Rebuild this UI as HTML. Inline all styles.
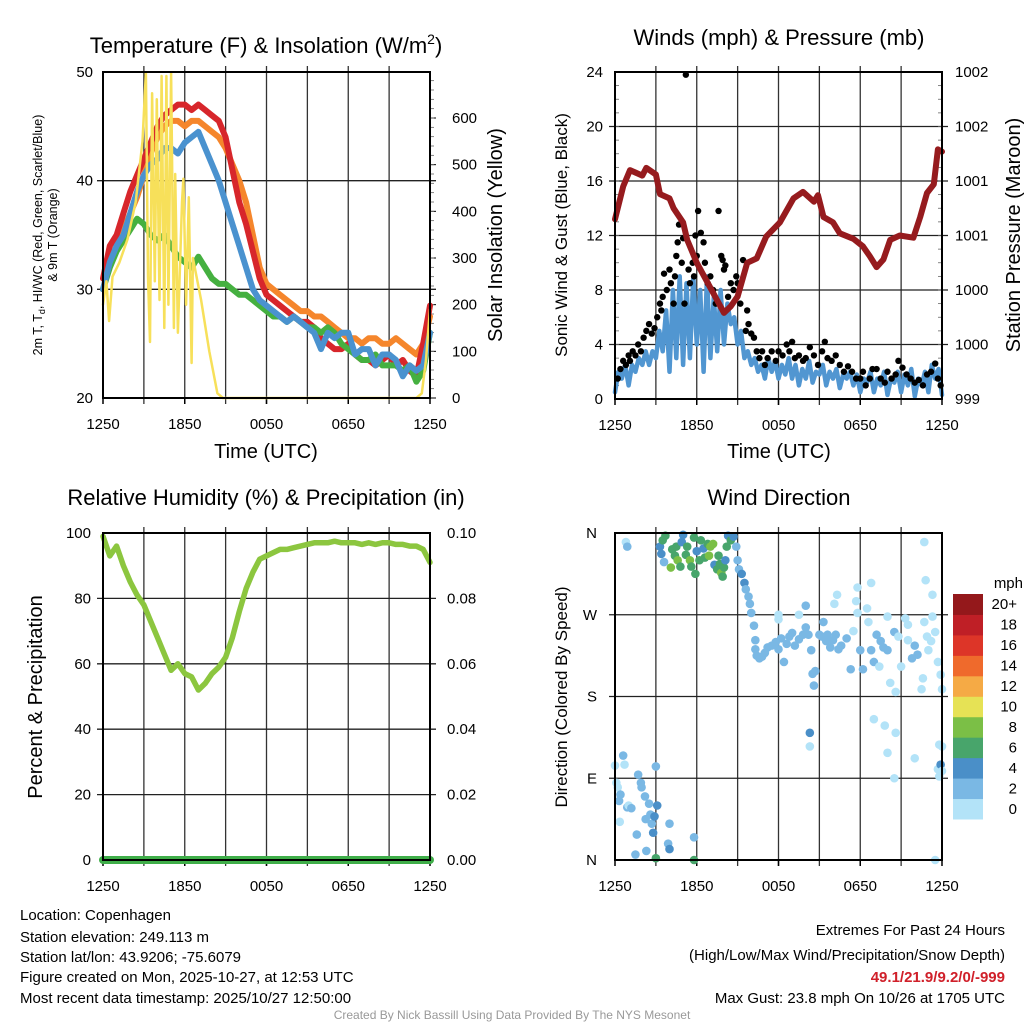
<!DOCTYPE html>
<html><head><meta charset="utf-8"><style>
html,body{margin:0;padding:0;background:#fff}
svg{display:block;font-family:"Liberation Sans",sans-serif}
</style></head><body>
<svg id="c" width="1024" height="1024" viewBox="0 0 1024 1024" xmlns="http://www.w3.org/2000/svg">
<text x="266" y="53" font-size="22" text-anchor="middle">Temperature (F) &amp; Insolation (W/m<tspan font-size="14" dy="-9">2</tspan><tspan dy="9">)</tspan></text>
<text x="779" y="45" font-size="22" text-anchor="middle">Winds (mph) &amp; Pressure (mb)</text>
<text x="266" y="505" font-size="22" text-anchor="middle">Relative Humidity (%) &amp; Precipitation (in)</text>
<text x="779" y="505" font-size="22" text-anchor="middle">Wind Direction</text>
<text x="266" y="458" font-size="20" text-anchor="middle">Time (UTC)</text>
<text x="779" y="458" font-size="20" text-anchor="middle">Time (UTC)</text>
<text transform="translate(42,235) rotate(-90)" font-size="12.5" text-anchor="middle">2m T, T<tspan font-size="9" dy="3">d</tspan><tspan dy="-3">, HI/WC (Red, Green, Scarlet/Blue)</tspan></text>
<text transform="translate(57,235) rotate(-90)" font-size="12.5" text-anchor="middle">&amp; 9m T (Orange)</text>
<text transform="translate(502,235) rotate(-90)" font-size="20" text-anchor="middle">Solar Insolation (Yellow)</text>
<text transform="translate(567,235) rotate(-90)" font-size="17" text-anchor="middle">Sonic Wind &amp; Gust (Blue, Black)</text>
<text transform="translate(1020,235) rotate(-90)" font-size="20" text-anchor="middle">Station Pressure (Maroon)</text>
<text transform="translate(42,697) rotate(-90)" font-size="20" text-anchor="middle">Percent &amp; Precipitation</text>
<text transform="translate(567,697) rotate(-90)" font-size="17" text-anchor="middle">Direction (Colored By Speed)</text>
<g font-size="15">
<text x="20" y="920">Location: Copenhagen</text>
<text x="20" y="942">Station elevation: 249.113 m</text>
<text x="20" y="962">Station lat/lon: 43.9206; -75.6079</text>
<text x="20" y="982">Figure created on Mon, 2025-10-27, at 12:53 UTC</text>
<text x="20" y="1003">Most recent data timestamp: 2025/10/27 12:50:00</text>
</g>
<g font-size="15" text-anchor="end">
<text x="1005" y="935">Extremes For Past 24 Hours</text>
<text x="1005" y="960">(High/Low/Max Wind/Precipitation/Snow Depth)</text>
<text x="1005" y="982" fill="#d0202a" font-weight="bold">49.1/21.9/9.2/0/-999</text>
<text x="1005" y="1003">Max Gust: 23.8 mph On 10/26 at 1705 UTC</text>
</g>
<text x="512" y="1019" font-size="12" fill="#999" text-anchor="middle">Created By Nick Bassill Using Data Provided By The NYS Mesonet</text>
</svg>
<script>
const xTickLabels=["1250","1850","0050","0650","1250"];
const tempRed=[31,34,35,37,39,40.5,42,43.5,45,46,46.5,47,47,46.5,47,46.5,46,45.5,44,41,38,36,33.5,31,29.5,29,28.5,28,27.5,27,27,26.5,25.5,25,24.5,24.5,25,24,23.5,23.5,23,23.5,24,23,23.5,22.5,22,25,28.5];
const tempOrange=[30,32.5,34,35.5,37,38.5,40.5,42.5,44,45,45.5,45.5,45,45.5,45.5,45,44.5,44,43,41.5,40,38,35,32,30.5,30,29.5,29,28.5,28,28,27.5,27.5,27,26.5,26,25.5,25.5,25,25.5,25.5,25,25,25.5,25,24.5,24,25,27.5];
const tempBlue=[30,32.5,34,35,37,39,40.5,41.5,42,43,43,42.5,43.5,44,44.5,43,41.5,40,38,36,34,32,30,29,28.5,28,27.5,27,27.5,27,26.5,26,24.5,26,25.5,26,26,24,24.5,24.5,23,24,24,23.5,22,23,22.5,23,26];
const tempGreen=[30,32,33.5,34.5,35.5,36.5,36,35,34.5,35,34,33,32.5,32,33,32,31,30.5,30.5,30,29.5,29.5,29,28.5,28,27.5,27.5,27,27.5,27,26.5,26.5,26,26.5,26,25,24.5,24,23.5,23.5,24,23,23,23,22.5,23,21.5,22.5,26];
const solarTimes=[0,0.25,0.45,0.7,1.2,1.8,2.4,2.9,3.15,3.3,3.45,3.6,3.8,3.95,4.15,4.3,4.5,4.65,4.8,5.0,5.2,5.3,5.5,5.8,5.9,6.1,6.3,6.5,6.6,7.2,7.8,8.4,8.8,23.0,23.4,23.7,24];
const solarVals=[200,250,165,260,290,340,420,550,698,260,120,653,250,640,210,690,150,690,200,698,150,480,140,420,470,200,430,75,300,210,100,10,0,0,10,80,190];
const sonicWind=[0.5,2,1.5,2.5,1,2.5,2,3,2.5,3.5,2.5,3.5,3,5,3.5,6.5,2,8,3,9,2.5,8.5,3,9,4,8,2,9,3,7.5,3.5,8,4,7,5.5,6,4,5,3,3.5,2.5,3,2,2.5,1.5,3,2,2.8,1.5,2.5,1.8,3,1.5,2.5,1,2.2,1.5,2.8,1.2,2,1.8,2.5,1,2,1.5,2.2,0.8,1.8,1.5,2,1,1.8,0.5,1.5,1.2,2,0.5,1.5,1,2,0.3,1.5,1.2,2,0.5,1.8,1,2.2,0.2,1.5,1,2,0.5,2.5,1.5,2.2,0.3];
const gustTimes=[0.2,0.4,0.6,0.8,1.0,1.1,1.3,1.5,1.7,1.9,2.1,2.3,2.5,2.7,2.9,3.1,3.3,3.4,3.5,3.6,3.8,4.0,4.1,4.3,4.4,4.5,4.6,4.7,4.9,5.0,5.1,5.2,5.4,5.5,5.7,5.8,5.9,6.0,6.1,6.3,6.5,6.6,6.8,7.0,7.2,7.4,7.6,7.8,7.9,8.0,8.1,8.3,8.5,8.7,8.9,9.0,9.2,9.4,9.6,9.7,9.8,10.0,10.2,10.4,10.6,10.8,11.0,11.2,11.5,11.8,12.0,12.3,12.6,12.8,13.0,13.2,13.5,13.8,14.0,14.3,14.6,14.9,15.2,15.4,15.6,15.9,16.2,16.5,16.8,17.1,17.4,17.7,18.0,18.2,18.4,18.7,18.9,19.2,19.5,19.8,20.0,20.3,20.6,20.8,21.1,21.4,21.7,22.0,22.3,22.6,22.9,23.2,23.5,23.7,23.9];
const gustVals=[1.5,2.2,2.8,2.5,3.2,2.8,3.5,3.2,4,3.5,4.5,5,5.5,4.8,5.2,6,7,6.5,7.5,9.2,8,9.5,8.5,7,9,10.5,11.5,12.8,10,11.8,7,23.8,9.5,8.5,10,9,12,10.5,13.8,12.2,11.5,10,8.5,9,8,7,13.8,10.5,10.2,9.5,9.8,7.5,8.5,8,9,8.5,7,10.2,5,6.5,5.5,4.8,4.5,3.5,3,3.5,2.5,3,3.5,2.8,3.5,3.2,4,3.5,4.2,3,3.2,2.8,3,3.8,3.2,2.5,3.5,4.2,3,2.8,3.2,2.5,2,2.4,2,1.5,1.5,2,1,1.5,2.2,2.2,1.5,1.2,2,1.5,1.8,2.8,2.3,1.8,1.5,1.2,1.4,1,1.8,2,2.6,1.5,1];
const pressTimes=[0,0.6,1.1,2,2.3,3,3.3,4,4.3,5,5.3,6,7,8,8.5,9,9.7,10.4,11.1,12.1,13.1,13.8,14.6,14.9,15.3,16,16.5,17.5,18.2,18.7,19.2,19.7,20.2,20.9,21.9,22.4,22.9,23.4,23.7,24];
const pressVals=[1000.65,1000.95,1001.1,1001.05,1001.12,1001.06,1000.88,1000.84,1000.75,1000.62,1000.46,1000.25,1000.02,999.79,999.85,999.94,1000.25,1000.29,1000.49,1000.62,1000.84,1000.9,1000.81,1000.87,1000.67,1000.62,1000.52,1000.47,1000.4,1000.31,1000.21,1000.28,1000.46,1000.5,1000.48,1000.67,1000.89,1000.97,1001.29,1001.27];
const pressTickLabels=["999","1000","1000","1001","1001","1002","1002"];
const rhVals=[99,93,96,90,85,81,78,73,68,63,58,60,57,56,52,54,57,59,62,68,76,83,88,92,93,94,95,95,95.5,96,96.5,97,97,97,97.5,97,97,97,96.5,97,96.5,97,97,96.5,96.5,96,96,95,91];
const precipVals=[0,0,0,0,0,0,0,0,0,0,0,0,0,0,0,0,0,0,0,0,0,0,0,0,0];
const dirPts=[[0,104,1],[0.1,85,0],[0.2,80,1],[0.3,65,2],[0.4,72,2],[0.35,42,1],[0.6,115,2],[0.7,105,0],[0.9,58,2],[1.0,60,1],[1.2,57,2],[1.5,6,2],[1.6,28,2],[1.7,94,3],[1.9,85,2],[1.95,80,2],[2.2,70,2],[2.25,45,2],[2.3,10,2],[2.5,62,2],[2.6,50,2],[2.7,40,3],[2.8,30,4],[2.9,48,4],[3.1,60,4],[3.0,103,3],[3.0,2,6],[4.0,40,2],[3.9,18,3],[4.0,12,4],[5.8,25,2],[5.8,0,6],
[0.8,350,0],[0.9,345,2],[3.3,345,4],[3.4,337,4],[3.5,352,6],[3.7,357,6],[3.6,328,3],[4.1,322,8],[4.2,342,6],[4.4,335,6],[4.5,345,6],[4.6,330,8],[4.8,323,6],[4.9,350,5],[5.0,358,4],[5.2,336,6],[5.3,345,6],[5.5,330,8],[5.6,323,6],[5.8,355,6],[5.9,315,6],[6.0,340,4],[6.2,330,6],[6.3,352,6],[6.5,343,5],[6.6,333,6],[6.8,348,6],[6.9,335,8],[7.0,345,8],[7.2,348,8],[7.3,325,4],[7.5,320,6],[7.6,335,6],[7.7,326,6],[7.8,316,8],[7.9,312,6],[8.0,322,6],[8.1,330,4],[8.2,345,6],[8.3,357,4],[8.5,352,6],[8.7,356,4],[8.9,345,2],
[9.0,330,2],[9.1,320,3],[9.3,315,4],[9.5,305,4],[9.6,298,2],[9.8,290,2],[9.9,282,2],[10.0,272,2],[10.2,258,2],[10.3,242,2],[10.3,232,2],
[10.4,225,2],[10.6,222,2],[10.8,224,2],[11.0,228,2],[11.2,234,2],[11.5,236,2],[11.8,240,2],[12.0,232,2],[12.2,244,2],[12.4,218,2],[12.6,238,2],[12.8,246,2],[13.0,250,2],[13.2,236,2],[13.5,243,2],[13.8,248,2],[14.0,256,2],[14.2,248,2],[14.4,231,2],[14.5,205,2],[14.6,192,2],[14.7,208,2],[15.0,248,2],[15.2,246,2],[15.3,262,3],[15.5,241,2],[15.6,248,2],[15.8,234,2],[16.0,242,2],[16.2,248,2],[16.4,232,2],[16.6,236,2],[17.0,244,2],[17.3,210,3],[17.5,252,0],[17.7,285,0],[17.8,272,0],[18.0,231,2],[18.2,210,2],[18.5,277,0],[18.6,262,0],[18.8,231,2],[19.0,218,2],[19.2,248,2],[19.4,213,0],[19.5,241,3],[19.7,234,3],[20.0,231,2],[20.2,195,1],[20.5,251,2],[20.6,185,0],[20.8,246,0],[21.0,213,0],[21.3,266,0],[21.5,259,0],[21.8,222,2],[22.0,236,3],[22.2,226,3],[22.5,188,0],[22.7,262,0],[22.9,246,0],[23.0,231,0],[23.2,241,0],[23.5,251,0],[23.7,218,0],[23.9,204,0],[24.0,188,0],[22.7,350,0],[23.3,292,0],[22.6,200,0],[23.5,0,0],[24.0,125,0],[23.7,100,0],[23.8,92,0],[23.9,105,4],[20.0,118,0],[19.8,148,0],[14.3,125,0],[14.3,140,4],[19.0,155,0],[20.6,140,0],[22.0,112,0],[24.0,98,0],[20.5,90,0],[23.8,127,0],[16.3,292,0],[16.1,282,0],[17.8,300,0],[18.8,305,0],[12.0,270,0],[12.0,265,0],[13.5,270,0],[14.0,280,3],[22.8,308,0],[20.0,268,0],[21.5,242,0],[23.3,268,0]];
const dirLabels=["N","E","S","W","N"];
const cbLabels=["0","2","4","6","8","10","12","14","16","18","20+"];
const cbColors=["#b3e3f8","#7ab8e4","#4a8fc8","#48a56b","#7bbf46","#e6e255","#f5aa45","#ef6a2c","#dd3528","#bf1f26","#94181b"];

const svg=document.getElementById('c');
const NS='http://www.w3.org/2000/svg';
function mk(tag,at,parent){const e=document.createElementNS(NS,tag);for(const k in at)e.setAttribute(k,at[k]);(parent||svg).appendChild(e);return e;}
function panel(x0,y0,x1,y1){return{x:t=>x0+t*(x1-x0)/24,x0,y0,x1,y1};}
const P1=panel(103,72,430,398),P2=panel(615,72,942,399),P3=panel(103,533,430,860),P4=panel(615,533,942,860);
function grid(P,yTicks,name){
  const g=mk('g',{});
  
  
  for(let h=3;h<24;h+=3){const x=P.x(h);mk('line',{x1:x,x2:x,y1:P.y0-6,y2:P.y1+6,stroke:'#333','stroke-width':1.3},g);}
  yTicks.forEach(y=>mk('line',{x1:P.x0-6,x2:P.x1+6,y1:y,y2:y,stroke:'#222','stroke-width':1.3},g));
  xTickLabels.forEach((l,i)=>{const x=P.x(i*6);
    mk('line',{x1:x,x2:x,y1:P.y1,y2:P.y1+6,stroke:'#000','stroke-width':1.5},g);
    const t=mk('text',{x:x,y:P.y1+31,'font-size':15,'text-anchor':'middle'},g);t.textContent=l;
    
    });
  return g;
}
function box(P){const r=mk('rect',{x:P.x0,y:P.y0,width:P.x1-P.x0,height:P.y1-P.y0,fill:'none',stroke:'#000','stroke-width':2});
  
  }
function line(P,ts,vs,yf,color,w,name){let d='';vs.forEach((v,i)=>{d+=(i?'L':'M')+P.x(ts(i)).toFixed(1)+','+yf(v).toFixed(1);});
  const p=mk('path',{d:d,fill:'none',stroke:color,'stroke-width':w,'stroke-linejoin':'round','stroke-linecap':'round'});
  
  }
function ylab(x,y,txt,anchor,size){const t=mk('text',{x:x,y:y+5,'font-size':size||15,'text-anchor':anchor});t.textContent=txt;
  
  }
function even(n){return i=>i*24/(n-1);}

// Panel 1
const yT=v=>P1.y1-(v-20)*(P1.y1-P1.y0)/30;
const yS=v=>P1.y1-v*280/600;
grid(P1,[yT(30),yT(40)],'temp');
[20,30,40,50].forEach(v=>ylab(P1.x0-10,yT(v),String(v),'end'));
for(let v=0;v<=600;v+=100){ylab(P1.x1+22,yS(v),String(v),'start');mk('line',{x1:P1.x1,x2:P1.x1+6,y1:yS(v),y2:yS(v),stroke:'#000'});}
for(let v=20;v<700;v+=20){mk('line',{x1:P1.x1,x2:P1.x1+4,y1:yS(v),y2:yS(v),stroke:'#666','stroke-width':0.8});}
line(P1,even(tempOrange.length),tempOrange,yT,'#f5862c',6,'series-9m-temp');
line(P1,even(tempRed.length),tempRed,yT,'#d7262b',6,'series-2m-temp');
line(P1,even(tempGreen.length),tempGreen,yT,'#45b040',6,'series-dewpoint');
line(P1,even(tempBlue.length),tempBlue,yT,'#4a92cf',6,'series-heat-index');
line(P1,i=>solarTimes[i],solarVals,yS,'#f7e05a',2.5,'series-insolation');
box(P1);

// Panel 2
const yW=v=>P2.y1-v*(P2.y1-P2.y0)/24;
const yP=v=>P2.y1-(v-999)*(P2.y1-P2.y0)/3;
grid(P2,[4,8,12,16,20].map(yW),'wind');
for(let v=0;v<=24;v+=4)ylab(P2.x0-12,yW(v),String(v),'end');
pressTickLabels.forEach((l,i)=>{ylab(P2.x1+13,yW(i*4),l,'start');});
for(let v=1;v<24;v++){mk('line',{x1:P2.x0,x2:P2.x0+4,y1:yW(v),y2:yW(v),stroke:'#666','stroke-width':0.8});mk('line',{x1:P2.x1,x2:P2.x1-4,y1:yW(v),y2:yW(v),stroke:'#666','stroke-width':0.8});}
line(P2,even(sonicWind.length),sonicWind,yW,'#5196d1',4.5,'series-sonic-wind');
gustVals.forEach((g,i)=>{const c=mk('circle',{cx:P2.x(gustTimes[i]),cy:yW(g),r:3.2,fill:'#000'});
  
  });
line(P2,i=>pressTimes[i],pressVals,yP,'#961b1e',6,'series-pressure');
box(P2);

// Panel 3
const yR=v=>P3.y1-v*(P3.y1-P3.y0)/100;
const yPr=v=>P3.y1-v*(P3.y1-P3.y0)/0.1;
grid(P3,[20,40,60,80].map(yR),'rh');
for(let v=0;v<=100;v+=20)ylab(P3.x0-12,yR(v),String(v),'end');
for(let v=0;v<=5;v++)ylab(P3.x1+17,yR(v*20),(v*0.02).toFixed(2),'start');
line(P3,even(rhVals.length),rhVals,yR,'#8cc63f',5.5,'series-rh');
line(P3,even(precipVals.length),precipVals,yPr,'#3fae49',8,'series-precip');
box(P3);

// Panel 4
const yD=v=>P4.y1-v*(P4.y1-P4.y0)/360;
grid(P4,[90,180,270].map(yD),'wdir');
dirLabels.forEach((l,i)=>ylab(P4.x0-18,yD(i*90),l,'end'));
function spdColor(s){return cbColors[Math.min(10,Math.max(0,Math.floor(s/2)))];}
dirPts.forEach(p=>{const c=mk('circle',{cx:P4.x(p[0]),cy:yD(p[1]),r:4.3,fill:spdColor(p[2])});
  
  });
box(P4);
const cb=mk('g',{});


const cbTop=594,cbH=225/11;
cbColors.forEach((c,i)=>{const y=cbTop+(10-i)*cbH;mk('rect',{x:953,y:y,width:30,height:cbH+0.5,fill:c},cb);
  const t=mk('text',{x:1017,y:y+cbH/2+5,'font-size':15,'text-anchor':'end'},cb);t.textContent=cbLabels[i];});
const mph=mk('text',{x:1023,y:588,'font-size':15,'text-anchor':'end'},cb);mph.textContent='mph';
</script>
</body></html>
